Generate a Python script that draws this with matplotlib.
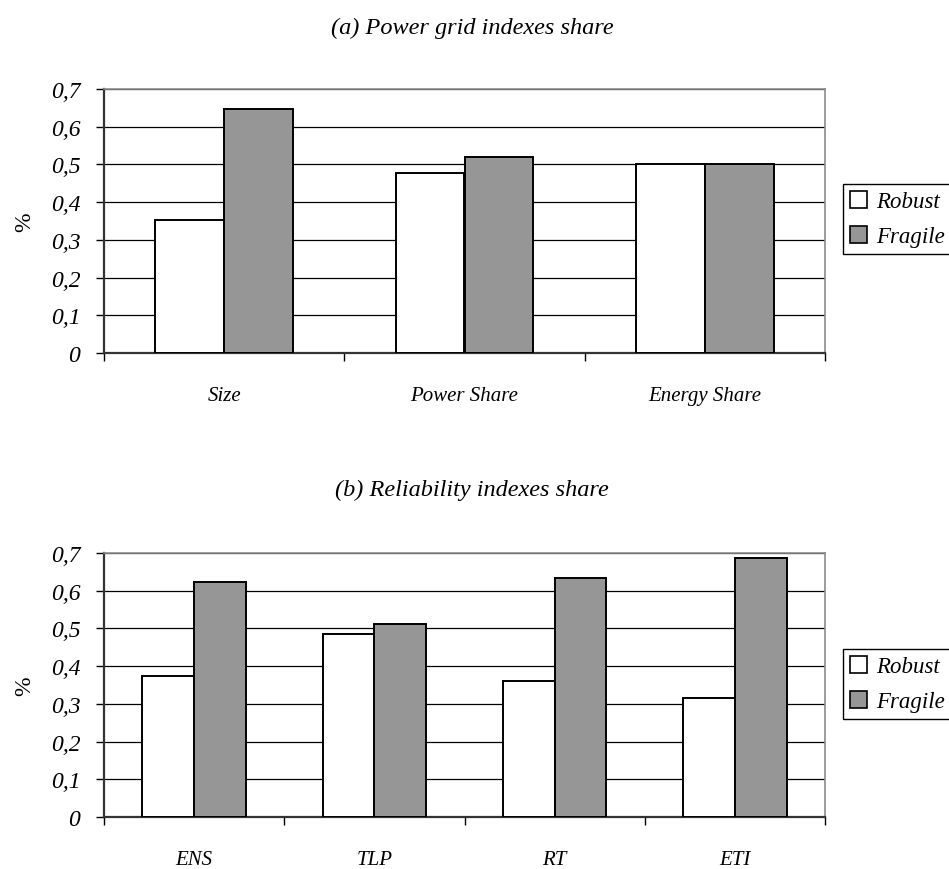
import matplotlib
matplotlib.use('Agg')
import matplotlib.pyplot as plt
from matplotlib.patches import Patch
from matplotlib.ticker import FixedLocator
import numpy as np

plt.rcParams['font.family'] = ['Liberation Serif', 'DejaVu Serif']

series_names = ['Robust', 'Fragile']
series_colors = ['white', '#969696']

grid_categories = ['Size', 'Power Share', 'Energy Share']
grid_robust = [0.353, 0.478, 0.50]
grid_fragile = [0.648, 0.521, 0.50]

rel_categories = ['ENS', 'TLP', 'RT', 'ETI']
rel_robust = [0.375, 0.486, 0.361, 0.315]
rel_fragile = [0.622, 0.511, 0.635, 0.686]

yticks = [0, 0.1, 0.2, 0.3, 0.4, 0.5, 0.6, 0.7]
ytick_labels = ['0', '0,1', '0,2', '0,3', '0,4', '0,5', '0,6', '0,7']

BAR_W = 0.287
FIG_W, FIG_H = 949, 870


def draw_panel(rect, title, title_y, categories, robust, fragile, legend_top):
    fig = plt.gcf()
    ax = fig.add_axes(rect)
    x = np.arange(len(categories))

    for vals, off, color in ((robust, -BAR_W / 2, series_colors[0]),
                             (fragile, BAR_W / 2, series_colors[1])):
        ax.bar(x + off, vals, width=BAR_W, color=color, edgecolor='black',
               linewidth=1.4, zorder=3)

    ax.set_xlim(-0.5, len(categories) - 0.5)
    ax.set_ylim(0, 0.7)

    # gridlines
    ax.set_yticks(yticks)
    ax.set_yticklabels(ytick_labels, fontsize=17, style='italic')
    ax.yaxis.grid(True, color='black', linewidth=0.9, zorder=0)
    ax.tick_params(axis='y', direction='out', length=6, width=1, pad=11)

    # category labels in the middle, ticks on the boundaries
    ax.set_xticks(x)
    ax.set_xticklabels(categories, fontsize=15, style='italic')
    ax.tick_params(axis='x', which='major', length=0, pad=24)
    ax.xaxis.set_minor_locator(FixedLocator(np.arange(len(categories) + 1) - 0.5))
    ax.tick_params(axis='x', which='minor', direction='out', length=6, width=1)

    for side in ('top', 'right'):
        ax.spines[side].set_color('#8c8c8c')
        ax.spines[side].set_linewidth(1.2)
    for side in ('left', 'bottom'):
        ax.spines[side].set_color('#333333')
        ax.spines[side].set_linewidth(1.6)

    ax.set_ylabel('%', fontsize=17, labelpad=11)

    fig.text(472 / FIG_W, 1 - title_y / FIG_H, title, fontsize=17.5,
             style='italic', ha='center', va='center')

    handles = [Patch(facecolor=c, edgecolor='black', linewidth=1.2)
               for c in series_colors]
    fig.legend(handles, series_names, loc='upper left',
               bbox_to_anchor=(843 / FIG_W, 1 - legend_top / FIG_H),
               prop={'size': 16.5, 'style': 'italic'}, frameon=True,
               fancybox=False, edgecolor='black', framealpha=1,
               handlelength=0.75, handleheight=0.75, handletextpad=0.4,
               borderpad=0.3, labelspacing=0.6, borderaxespad=0)
    return ax


fig = plt.figure(figsize=(FIG_W / 100, FIG_H / 100), dpi=100)

draw_panel([104 / FIG_W, 1 - 354 / FIG_H, 721 / FIG_W, 264 / FIG_H],
           '(a) Power grid indexes share', 28,
           grid_categories, grid_robust, grid_fragile, 185)
draw_panel([104 / FIG_W, 1 - 818 / FIG_H, 721 / FIG_W, 264 / FIG_H],
           '(b) Reliability indexes share', 490,
           rel_categories, rel_robust, rel_fragile, 650)

fig.savefig('out.png', dpi=100)
